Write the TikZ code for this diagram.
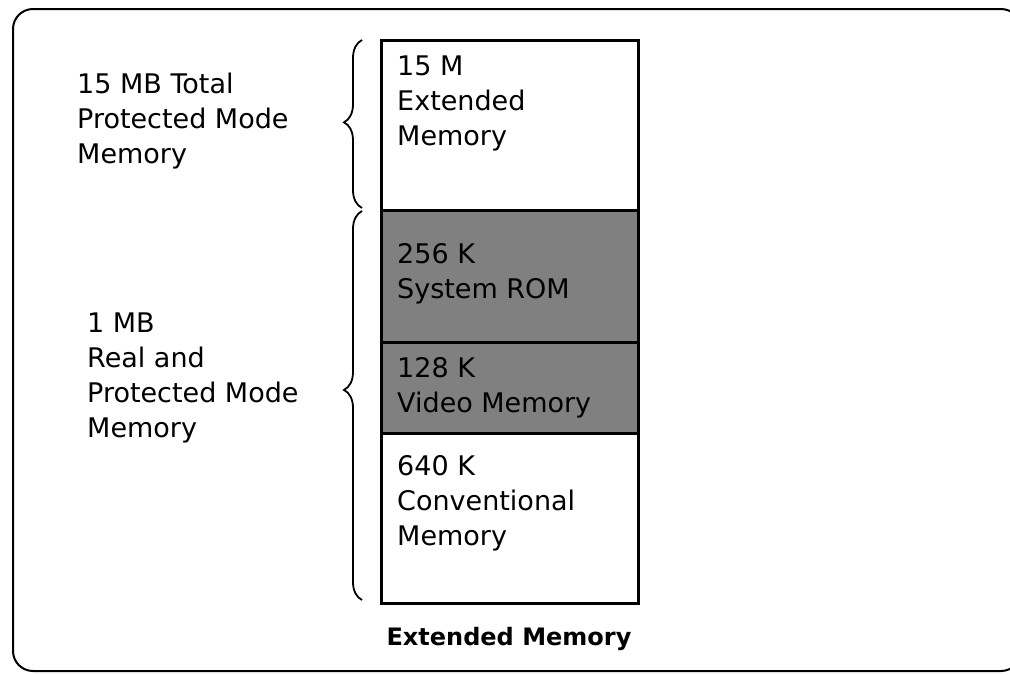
\documentclass[tikz,border=0pt]{standalone}
\usepackage{fontspec}
\setmainfont{DejaVu Sans}
\usetikzlibrary{decorations.pathreplacing}

\tikzset{
  memtext/.style={anchor=north west, inner sep=0pt, align=left},
  membrace/.style={line width=1.8pt, decorate},
}

\begin{document}
\begin{tikzpicture}[x=1pt, y=-1pt, font=\fontsize{27}{35}\selectfont]
  \useasboundingbox (0,0) rectangle (1010,675);

  % === OUTER FRAME ===
  \draw[line width=2pt, rounded corners=20pt] (13,9) rectangle (1021,671);

  % === MEMORY COLUMN ===
  % shaded ROM and video blocks
  \fill[black!50] (381,210) rectangle (638,433);
  \draw[line width=3pt] (381,40) rectangle (638,603);
  \draw[line width=3pt] (381,210) -- (638,210);
  \draw[line width=3pt] (381,342) -- (638,342);
  \draw[line width=3pt] (381,433) -- (638,433);

  % block labels
  \node[memtext] (extmem) at (397,55.5) {15 M\\Extended\\Memory};
  \node[memtext] (rom) at (397,243.5) {256 K\\System ROM};
  \node[memtext] (video) at (397,357.5) {128 K\\Video Memory};
  \node[memtext] (conv) at (397,455.5) {640 K\\Conventional\\Memory};

  % caption
  \node[anchor=base, inner sep=0pt, font=\fontsize{24}{28}\selectfont\bfseries]
    (caption) at (509,645) {Extended Memory};

  % === BRACES AND MODE LABELS ===
  \draw[membrace, decoration={brace, amplitude=18pt, aspect=0.51}]
    (362,208) -- (362,40);
  \draw[membrace, decoration={brace, amplitude=18pt, aspect=0.54}]
    (362,600) -- (362,211);

  \node[memtext] (protmode) at (77,72.5)
    {15 MB Total\\Protected Mode\\Memory};
  \node[memtext] (realmode) at (87,312.5)
    {1 MB\\Real and\\Protected Mode\\Memory};

\end{tikzpicture}
\end{document}
